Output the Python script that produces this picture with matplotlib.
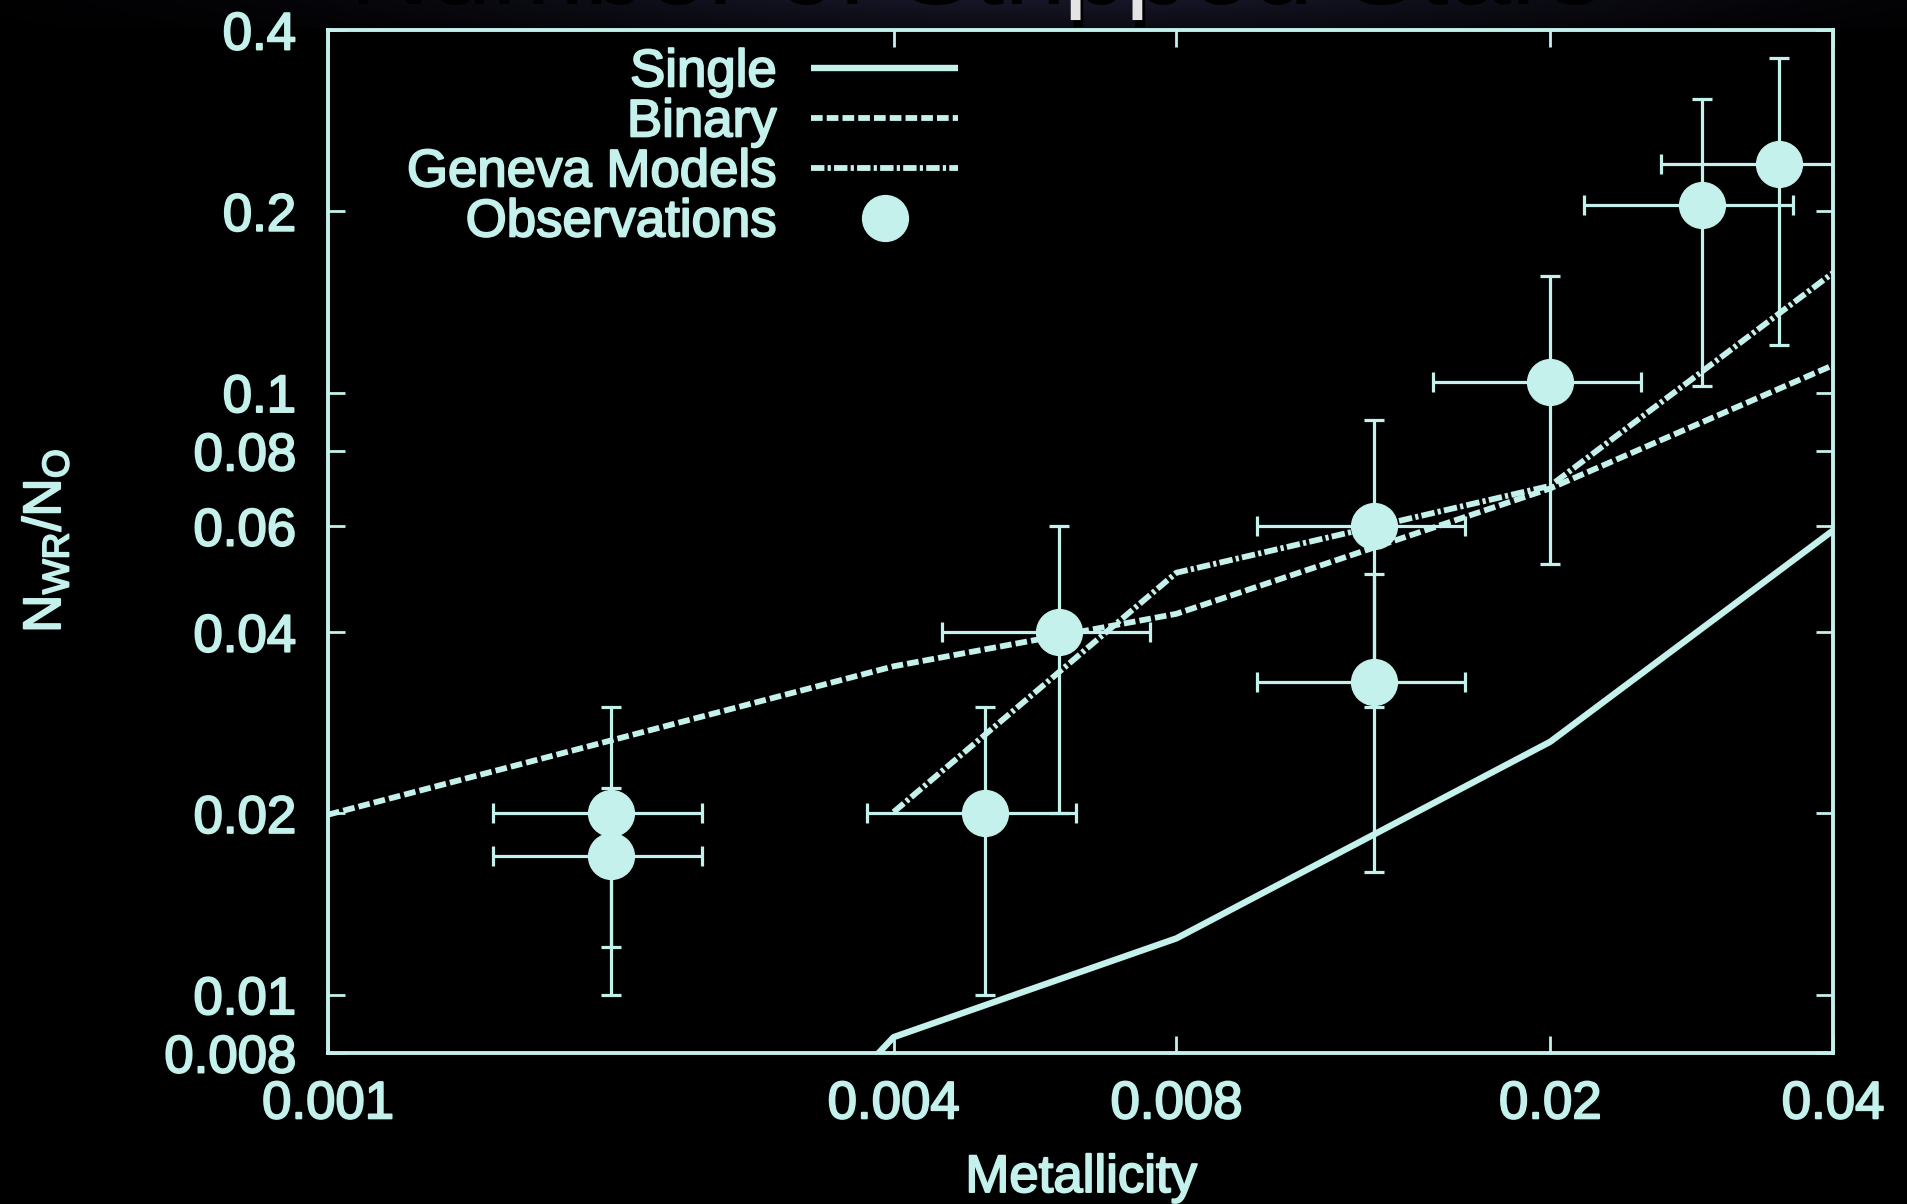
import numpy as np
import matplotlib
matplotlib.use("Agg")
import matplotlib.pyplot as plt
from matplotlib import patheffects as pe

# ---- model curves: N_WR / N_O against metallicity ----
single_z = [0.002, 0.004, 0.008, 0.02, 0.04]
single_ratio = [0.0027, 0.0085, 0.0124, 0.0263, 0.059]

binary_z = [0.001, 0.004, 0.008, 0.02, 0.04]
binary_ratio = [0.0199, 0.0351, 0.0429, 0.0693, 0.111]

geneva_z = [0.004, 0.008, 0.02, 0.04]
geneva_ratio = [0.0201, 0.0502, 0.070, 0.158]

# ---- observed ratios with their ranges ----
obs_z = [0.002, 0.002, 0.005, 0.006, 0.013, 0.013, 0.020, 0.029, 0.035]
obs_z_lo = [0.0015, 0.0015, 0.00375, 0.0045, 0.00975, 0.00975, 0.015, 0.02175, 0.02625]
obs_z_hi = [0.0025, 0.0025, 0.00625, 0.0075, 0.01625, 0.01625, 0.025, 0.03625, 0.04375]
obs_ratio = [0.020, 0.017, 0.020, 0.040, 0.060, 0.033, 0.104, 0.205, 0.240]
obs_ratio_lo = [0.012, 0.010, 0.010, 0.020, 0.030, 0.016, 0.052, 0.1025, 0.120]
obs_ratio_hi = [0.030, 0.022, 0.030, 0.060, 0.090, 0.050, 0.156, 0.307, 0.360]

x_ticks = [0.001, 0.004, 0.008, 0.02, 0.04]
x_tick_labels = ["0.001", "0.004", "0.008", "0.02", "0.04"]
y_ticks = [0.008, 0.01, 0.02, 0.04, 0.06, 0.08, 0.1, 0.2, 0.4]
y_tick_labels = ["0.008", "0.01", "0.02", "0.04", "0.06", "0.08", "0.1", "0.2", "0.4"]

FG = "#c4f1ec"
FS = 38
THICK = [pe.withStroke(linewidth=1.4, foreground=FG)]

plt.rcParams["font.family"] = ["Liberation Sans", "DejaVu Sans"]
plt.rcParams["mathtext.fontset"] = "custom"
plt.rcParams["mathtext.rm"] = "Liberation Sans"
plt.rcParams["mathtext.it"] = "Liberation Sans"

W, H = 1907, 1204
fig = plt.figure(figsize=(W / 100, H / 100), dpi=100, facecolor="black")

# dark slide band along the top edge
band_h = 28
band = fig.add_axes([0, 1 - band_h / H, 1, band_h / H])
gx = np.linspace(0, 1, 400)
gy = np.linspace(0, 1, 20)
GX, GY = np.meshgrid(gx, gy)
glow = np.exp(-((GX - 0.55) / 0.33) ** 2) * (0.55 + 0.45 * GY)
rgb = np.dstack([0.085 * glow, 0.085 * glow, 0.15 * glow])
band.imshow(rgb, aspect="auto", extent=[0, 1, 0, 1], origin="lower")
band.set_axis_off()

# slide heading, mostly above the visible area
fig.text(347 / W, 1 + 3 / H, "Number of Stripped Stars", fontsize=80,
         color="#e4e4e4", ha="left", va="baseline",
         path_effects=[pe.SimplePatchShadow(offset=(2, -5), shadow_rgbFace="black", alpha=1.0),
                       pe.Normal()])

ax = fig.add_axes([328 / W, 1 - 1053 / H, (1833 - 328) / W, (1053 - 30) / H])
ax.set_facecolor("black")
ax.set_xscale("log")
ax.set_yscale("log")
ax.set_xlim(0.001, 0.04)
ax.set_ylim(0.008, 0.4)

l_single, = ax.plot(single_z, single_ratio, color=FG, lw=4.6, solid_capstyle="butt",
                    label="Single", zorder=3)
l_binary, = ax.plot(binary_z, binary_ratio, color=FG, lw=4.2, dashes=(2.0, 0.7),
                    label="Binary", zorder=3)
l_geneva, = ax.plot(geneva_z, geneva_ratio, color=FG, lw=4.2, dashes=(2.3, 0.55, 0.55, 0.55),
                    label="Geneva Models", zorder=3)

xerr = [np.subtract(obs_z, obs_z_lo), np.subtract(obs_z_hi, obs_z)]
yerr = [np.subtract(obs_ratio, obs_ratio_lo), np.subtract(obs_ratio_hi, obs_ratio)]
obs = ax.errorbar(obs_z, obs_ratio, xerr=xerr, yerr=yerr, fmt="o", ms=33,
                  color=FG, mec=FG, ecolor=FG, elinewidth=2.3, capsize=7,
                  capthick=2.3, zorder=4, label="Observations")

ax.xaxis.set_major_locator(matplotlib.ticker.FixedLocator(x_ticks))
ax.xaxis.set_major_formatter(matplotlib.ticker.FixedFormatter(x_tick_labels))
ax.xaxis.set_minor_locator(matplotlib.ticker.NullLocator())
ax.yaxis.set_major_locator(matplotlib.ticker.FixedLocator(y_ticks))
ax.yaxis.set_major_formatter(matplotlib.ticker.FixedFormatter(y_tick_labels))
ax.yaxis.set_minor_locator(matplotlib.ticker.NullLocator())

ax.tick_params(axis="both", which="major", direction="in", length=12, width=2,
               color=FG, labelcolor=FG, labelsize=FS, top=True, right=True)
ax.tick_params(axis="x", pad=19)
ax.tick_params(axis="y", pad=23)
for lab in ax.get_xticklabels() + ax.get_yticklabels():
    lab.set_path_effects(THICK)
for s in ax.spines.values():
    s.set_color(FG)
    s.set_linewidth(2.8)

fig.text(1081 / W, 1 - 1192 / H, "Metallicity", fontsize=FS, color=FG,
         ha="center", va="baseline", path_effects=THICK)
fig.text(46 / W, 1 - 541 / H, r"$\mathrm{N_{WR}/N_{O}}$", fontsize=FS, color=FG,
         ha="center", va="center", rotation=90, path_effects=THICK)

leg = ax.legend(handles=[l_single, l_binary, l_geneva, obs[0]],
                labels=["Single", "Binary", "Geneva Models", "Observations"],
                loc="upper right", bbox_to_anchor=(0.4186, 0.983),
                frameon=False, markerfirst=False, fontsize=FS,
                handlelength=2.78, handletextpad=0.66, labelspacing=0.0,
                borderpad=0, borderaxespad=0, numpoints=1)
for t in leg.get_texts():
    t.set_color(FG)
    t.set_path_effects(THICK)

fig.savefig("out.png", dpi=100, facecolor="black")
